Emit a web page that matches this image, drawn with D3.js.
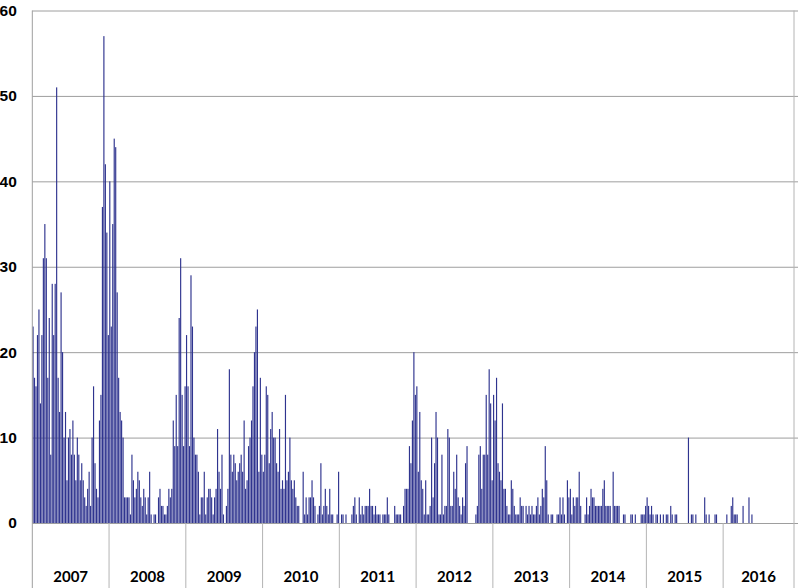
<!DOCTYPE html>
<html>
<head>
<meta charset="utf-8">
<script src="https://cdn.jsdelivr.net/npm/d3@7"></script>
<style>
  body { margin: 0; background: #fff; }
  svg { display: block; font-family: Lato, "Open Sans", sans-serif; }
</style>
</head>
<body>
<svg id="chart" width="798" height="588"></svg>
<script>
// weekly counts, one array per year
const years = ["2007", "2008", "2009", "2010", "2011", "2012", "2013", "2014", "2015", "2016"];

const y2007 = [23,17,16,22,25,14,22,31,35,31, 17,24,8,28,22,28,51,17,13,27, 20,10,13,5,10,11,8,12,8,5, 10,8,5,7,5,3,2,4,6,2, 10,16,7,4,3,12,15,37,57,42, 34,22];
const y2008 = [40,23,35,45,44,27,17,13,12,10, 3,3,3,3,1,8,5,3,4,6, 5,3,2,4,3,1,3,6,1,0, 1,1,0,3,4,2,2,1,1,2, 4,3,4,12,9,15,9,24,31,15, 9,16];
const y2009 = [22,16,9,29,23,10,8,8,6,1, 3,3,6,1,3,4,4,3,1,3, 4,11,6,4,8,1,0,2,4,18, 8,6,8,7,5,6,7,8,6,12, 4,5,9,10,12,16,20,23,25,6, 17,8];
const y2010 = [6,8,16,15,7,11,13,10,10,7, 6,11,4,5,4,15,5,6,10,5, 4,5,3,2,2,0,0,6,1,3, 1,3,3,5,3,2,0,1,2,7, 1,2,4,2,1,4,1,1,0,0, 1,6];
const y2011 = [0,1,1,0,1,0,0,0,1,2, 3,1,0,3,1,2,1,2,2,2, 4,2,2,1,2,1,1,1,0,1, 1,1,3,1,0,0,0,2,1,1, 1,1,0,2,4,4,4,9,7,12, 20,15];
const y2012 = [16,6,13,5,4,1,5,1,1,2, 10,3,7,13,10,1,1,8,1,2, 2,11,10,2,2,6,4,8,3,2, 1,3,2,7,9,0,0,0,0,0, 1,2,8,9,4,8,8,15,8,18, 14,5];
const y2013 = [15,12,17,7,6,5,14,4,4,2, 1,1,5,4,2,1,1,1,3,2, 2,0,2,1,2,1,2,1,1,2, 3,1,2,4,3,9,5,1,0,1, 1,0,0,1,1,3,1,3,1,0, 5,3];
const y2014 = [4,1,3,2,3,3,6,2,0,0, 1,3,1,2,4,3,3,2,2,2, 2,2,4,5,2,2,2,2,0,6, 2,2,2,2,0,0,1,1,0,0, 0,1,1,0,1,0,0,0,1,1, 1,2];
const y2015 = [3,2,1,2,1,0,1,1,0,1, 0,1,0,1,1,0,2,1,0,1, 1,0,0,0,0,0,0,0,10,0, 1,1,0,1,0,0,0,0,0,3, 1,0,1,0,0,0,1,1,0,0, 0,0];
const y2016 = [0,0,1,0,0,2,3,1,1,1, 0,0,0,2,0,0,0,3,0,1, 0,0,0,0,0,0,0,0,0,0, 0,0,0,0,0,0,0,0,0,0, 0,0,0,0,0,0,0,0];

const yearValues = [y2007, y2008, y2009, y2010, y2011, y2012, y2013, y2014, y2015, y2016];
const yTicks = [0, 10, 20, 30, 40, 50, 60];

const data = [];
const yearStarts = [];
yearValues.forEach((vals, yi) => {
  yearStarts.push(data.length);
  vals.forEach(v => data.push({ idx: data.length, year: years[yi], value: v }));
});
yearStarts.push(data.length);

const plotLeft = 32.3, plotRight = 794, plotTop = 10.5, plotBase = 523, plotBottom = 588;

const svg = d3.select("#chart");

const x = d3.scaleBand()
  .domain(data.map(d => d.idx))
  .range([plotLeft, plotRight])
  .paddingInner(0.22)
  .paddingOuter(0.11);

const y = d3.scaleLinear()
  .domain([0, 60])
  .range([plotBase, plotTop]);

// horizontal gridlines + labels
const yAxis = svg.append("g")
  .attr("transform", `translate(${plotLeft},0)`)
  .call(d3.axisLeft(y).tickValues(yTicks).tickSize(-(798 - plotLeft)).tickPadding(15.5));
yAxis.select(".domain").remove();
yAxis.selectAll(".tick line").attr("stroke", "#9e9e9e").attr("stroke-width", 1);
yAxis.selectAll(".tick text")
  .attr("fill", "#000")
  .style("font-size", "15.5px")
  .style("font-weight", "700");

// bars
svg.append("g")
  .selectAll("rect")
  .data(data.filter(d => d.value > 0))
  .join("rect")
  .attr("x", d => x(d.idx))
  .attr("y", d => y(d.value))
  .attr("width", x.bandwidth())
  .attr("height", d => y(0) - y(d.value))
  .attr("fill", "#2f348f");

// year dividers under the axis
const step = x.step();
const bounds = yearStarts.map(i => plotLeft + i * step);

svg.append("line")
  .attr("x1", plotLeft).attr("x2", plotLeft)
  .attr("y1", plotTop).attr("y2", plotBottom)
  .attr("stroke", "#9e9e9e");

svg.append("line")
  .attr("x1", plotRight).attr("x2", plotRight)
  .attr("y1", plotTop).attr("y2", plotBottom)
  .attr("stroke", "#b4b4b4");

svg.append("g")
  .selectAll("line")
  .data(bounds.slice(1, -1))
  .join("line")
  .attr("x1", d => d).attr("x2", d => d)
  .attr("y1", plotBase).attr("y2", plotBottom)
  .attr("stroke", "#b4b4b4");

svg.append("g")
  .selectAll("text")
  .data(years)
  .join("text")
  .attr("x", (d, i) => (bounds[i] + bounds[i + 1]) / 2)
  .attr("y", 577)
  .attr("dy", "0.35em")
  .attr("text-anchor", "middle")
  .style("font-size", "15px")
  .style("font-weight", "700")
  .text(d => d);
</script>
</body>
</html>
